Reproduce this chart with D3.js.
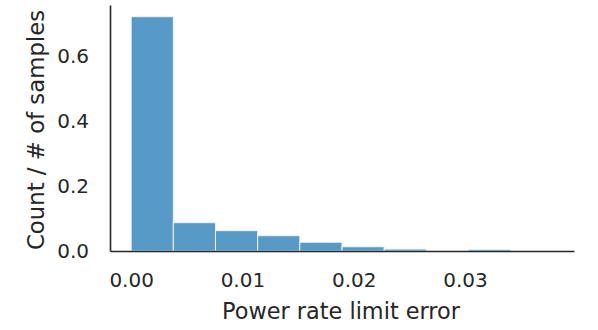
<!DOCTYPE html>
<html>
<head>
<meta charset="utf-8">
<script src="https://cdn.jsdelivr.net/npm/d3@7"></script>
<style>
  body { margin: 0; background: #fff; }
  text { font-family: "DejaVu Sans", sans-serif; fill: #262626; }
</style>
</head>
<body>
<svg width="598" height="330"></svg>
<script>
// histogram bins (fraction of samples)
const binWidth = 0.00379;
const binStarts = [0, 1, 2, 3, 4, 5, 6, 7, 8, 9].map(i => i * binWidth);
const fractions = [0.72, 0.087, 0.0625, 0.047, 0.027, 0.013, 0.006, 0.0, 0.005, 0.0];
const xTicks = [0.00, 0.01, 0.02, 0.03];
const yTicks = [0.0, 0.2, 0.4, 0.6];

const svg = d3.select("svg");
const mLeft = 110, mRight = 574, mTop = 5, mBottom = 251;

const x = d3.scaleLinear().domain([-0.0019, 0.0398]).range([mLeft, mRight]);
const y = d3.scaleLinear().domain([0, 0.756]).range([mBottom, mTop]);

svg.selectAll("rect.bar")
    .data(binStarts)
    .enter().append("rect")
    .attr("class", "bar")
    .attr("x", (d) => x(d))
    .attr("width", (d) => x(d + binWidth) - x(d))
    .attr("y", (d, i) => y(fractions[i]))
    .attr("height", (d, i) => y(0) - y(fractions[i]))
    .attr("fill", "#5799c7")
    .attr("stroke", "#eef5fb")
    .attr("stroke-width", 1);

// axes, despined
const xAxis = svg.append("g")
    .attr("transform", `translate(0,${mBottom})`)
    .call(d3.axisBottom(x).tickValues(xTicks).tickFormat(d3.format(".2f")).tickSize(0).tickPadding(22));
const yAxis = svg.append("g")
    .attr("transform", `translate(${mLeft},0)`)
    .call(d3.axisLeft(y).tickValues(yTicks).tickFormat(d3.format(".1f")).tickSize(0).tickPadding(21));

[xAxis, yAxis].forEach(g => {
    g.select(".domain").attr("stroke", "#262626").attr("stroke-width", 1.6);
    g.selectAll("text").attr("font-size", 20).style("fill", "#262626");
});

svg.append("text")
    .attr("x", 341)
    .attr("y", 319)
    .attr("text-anchor", "middle")
    .attr("font-size", 22.4)
    .text("Power rate limit error");

svg.append("text")
    .attr("transform", "translate(44,130) rotate(-90)")
    .attr("text-anchor", "middle")
    .attr("font-size", 22.8)
    .text("Count / # of samples");
</script>
</body>
</html>
